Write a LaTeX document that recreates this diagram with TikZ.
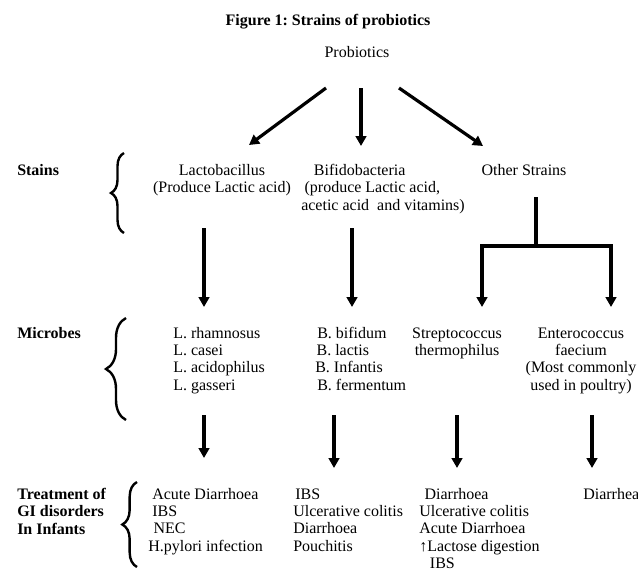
\documentclass[tikz,border=0pt]{standalone}
\usepackage{fontspec}
\setmainfont{Liberation Serif}
\usetikzlibrary{arrows.meta,decorations.pathreplacing}
\frenchspacing
\begin{document}
\begin{tikzpicture}[x=0.75pt,y=-0.75pt,
  txt/.style={inner sep=0pt, font=\fontsize{12}{13.1}\selectfont, align=center, anchor=base},
  txtl/.style={txt, align=left, anchor=base west},
  lbl/.style={inner sep=0pt, font=\bfseries\fontsize{12}{13.1}\selectfont, align=left, anchor=base west},
  arr/.style={line width=2.4pt, -{Triangle[width=8pt,length=7.5pt]}},
  conn/.style={line width=2.4pt},
  brc/.style={line width=1.8pt, decorate, decoration={brace, amplitude=#1}},
  ]
\useasboundingbox (0,0) rectangle (638,568);

% title and root
\node[lbl, anchor=base] (title) at (328,25) {Figure 1: Strains of probiotics};
\node[txt] (prob) at (357,57) {Probiotics};

% row labels (anchor = baseline of last line)
\node[lbl] (stains) at (17,175) {Stains};
\node[lbl] (microbes) at (17,338) {Microbes};
\node[lbl] (treat) at (17,534) {Treatment of\\GI disorders\\In Infants};

% braces
\draw[brc=9.75pt] (124,233) coordinate (b1b) -- (124,153) coordinate (b1t);
\draw[brc=15pt] (126,420) coordinate (b2b) -- (126,318) coordinate (b2t);
\draw[brc=11pt] (137,567) coordinate (b3b) -- (137,482) coordinate (b3t);

% row 1: strains
\node[txt] (lacto) at (222,192.5) {Lactobacillus\\(Produce Lactic acid)};
\node[txtl] (bifido) at (301,210) {\hspace*{9.5pt}Bifidobacteria\\\hspace*{2.5pt}(produce Lactic acid,\\acetic acid\ \ and vitamins)};
\node[txt] (other) at (524,175) {Other Strains};

% row 2: microbes
\node[txtl] (lmic) at (173,390.4) {L. rhamnosus\\L. casei\\L. acidophilus\\L. gasseri};
\node[txtl] (bmic) at (315,390.4) {\hspace*{1.5pt}B. bifidum\\\hspace*{1pt}B. lactis\\B. Infantis\\\hspace*{1.5pt}B. fermentum};
\node[txt] (strep) at (457,355.5) {Streptococcus\\thermophilus};
\node[txt] (entero) at (581,390.4) {Enterococcus\\faecium\\(Most commonly\\used in poultry)};

% row 3: treatments
\node[txtl] (t1) at (148,551.4) {\hspace*{3pt}Acute Diarrhoea\\\hspace*{3pt}IBS\\\hspace*{4pt}NEC\\H.pylori infection};
\node[txtl] (t2) at (293,551.4) {\hspace*{1.5pt}IBS\\Ulcerative colitis\\Diarrhoea\\Pouchitis};
\node[txtl] (t3) at (419,568.9) {\hspace*{4pt}Diarrhoea\\Ulcerative colitis\\Acute Diarrhoea\\\textbf{↑}Lactose digestion\\\hspace*{8pt}IBS};
\node[txtl] (t4) at (583,499) {Diarrhea};

% arrows from root
\coordinate (pL) at (326,88);  \coordinate (eL) at (249,145);
\coordinate (pM) at (361,88);  \coordinate (eM) at (361,146);
\coordinate (pR) at (399,88);  \coordinate (eR) at (483,146);
\draw[arr] (pL) -- (eL);
\draw[arr] (pM) -- (eM);
\draw[arr] (pR) -- (eR);

% row 1 -> row 2
\coordinate (lacS) at (204,228); \coordinate (lacE) at (204,307);
\coordinate (bifS) at (352,228); \coordinate (bifE) at (352,307);
\coordinate (othS) at (536,197); \coordinate (othJ) at (536,246);
\coordinate (strE) at (482,307); \coordinate (entE) at (611,307);
\draw[arr] (lacS) -- (lacE);
\draw[arr] (bifS) -- (bifE);
\draw[conn] (othS) -- (othJ);
\draw[arr] (othJ) -| (strE);
\draw[arr] (othJ) -| (entE);

% row 2 -> row 3
\coordinate (m1S) at (204,415); \coordinate (m1E) at (204,458);
\coordinate (m2S) at (334,415); \coordinate (m2E) at (334,468);
\coordinate (m3S) at (457,415); \coordinate (m3E) at (457,468);
\coordinate (m4S) at (592,415); \coordinate (m4E) at (592,468);
\draw[arr] (m1S) -- (m1E);
\draw[arr] (m2S) -- (m2E);
\draw[arr] (m3S) -- (m3E);
\draw[arr] (m4S) -- (m4E);
\end{tikzpicture}
\end{document}
